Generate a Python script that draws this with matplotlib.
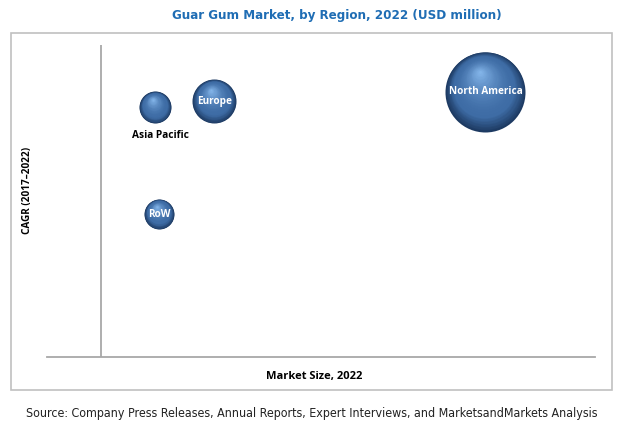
import numpy as np
import matplotlib
matplotlib.use("Agg")
import matplotlib.pyplot as plt
from matplotlib.patches import Rectangle
from matplotlib.transforms import ScaledTranslation
from matplotlib.colors import to_rgb

# Data (arbitrary units, no axis ticks in the original)
regions = ["Asia Pacific", "Europe", "North America", "RoW"]
market_size = [109, 229, 778, 117]
cagr = [8.0, 8.2, 8.5, 4.58]
bubble_size = [16, 22, 40, 15]   # bubble radius, px
label_inside = [False, True, True, True]

TITLE = "Guar Gum Market, by Region, 2022 (USD million)"
SOURCE = "Source: Company Press Releases, Annual Reports, Expert Interviews, and MarketsandMarkets Analysis"

W, H = 625, 429
fig = plt.figure(figsize=(W / 100, H / 100), dpi=100)

# outer frame
fig.patches.append(Rectangle((11 / W, 1 - 390 / H), (612 - 11) / W, (390 - 33) / H,
                             transform=fig.transFigure, fill=False,
                             edgecolor="#c0c0c0", linewidth=1.2))

ax = fig.add_axes([47 / W, 1 - 357 / H, (595 - 47) / W, (357 - 45) / H])
ax.set_xlim(-110, 1000)
ax.set_ylim(0, 10)
for s in ["top", "right", "left"]:
    ax.spines[s].set_visible(False)
ax.spines["bottom"].set_color("#a8a8a8")
ax.spines["bottom"].set_linewidth(1.3)
ax.axvline(0, color="#a8a8a8", linewidth=1.3)
ax.set_xticks([])
ax.set_yticks([])

dark = np.array(to_rgb("#1d3a62"))
mid = np.array(to_rgb("#3e6ca5"))
light = np.array(to_rgb("#86b8ec"))

n_layers = 40
for x, y, r in zip(market_size, cagr, bubble_size):
    for k in range(n_layers):
        f = k / n_layers
        rad = r * (1 - f) ** 0.9
        # colour goes dark edge -> mid body -> light highlight
        if f < 0.25:
            c = dark + (mid - dark) * (f / 0.25)
        else:
            c = mid + (light - mid) * ((f - 0.25) / 0.75) ** 1.8
        dx = -0.15 * r * f * 0.72
        dy = 0.5 * r * f * 0.72
        tr = ax.transData + ScaledTranslation(dx / 72, dy / 72, fig.dpi_scale_trans)
        ax.scatter([x], [y], s=(2 * rad * 0.72) ** 2, color=c, linewidths=0,
                   transform=tr, zorder=3 + k * 0.01)

for name, x, y, r, inside in zip(regions, market_size, cagr, bubble_size, label_inside):
    if inside:
        ax.text(x, y, name, ha="center", va="center", color="white",
                fontsize=7.2, fontweight="bold", family="Open Sans", zorder=10)
    else:
        ax.annotate(name, (x, y), xytext=(4, -(r + 12) * 0.72), textcoords="offset points",
                    ha="center", va="center", color="black", fontsize=7.3,
                    fontweight="bold", family="Open Sans", zorder=10)

title = fig.text(337 / W, 1 - 16 / H, TITLE, ha="center", va="center",
                 color="#1f6db4", fontsize=10.5, fontweight="bold",
                 family="DejaVu Sans", fontstretch="condensed")
fig.text(314 / W, 1 - 377 / H, "Market Size, 2022", ha="center", va="center",
         fontsize=8, fontweight="bold", family="Open Sans")
fig.text(28 / W, 1 - 190 / H, "CAGR (2017\u20132022)", ha="center", va="center",
         rotation=90, fontsize=7.2, fontweight="bold", family="Open Sans")
source = fig.text(312 / W, 1 - 413 / H, SOURCE, ha="center", va="center",
                  fontsize=9.5, color="#222222",
                  family="DejaVu Sans", fontstretch="condensed")

# fit the narrow-font texts to the width they take in the original
renderer = fig.canvas.get_renderer()
for t, target in [(title, 332), (source, 576)]:
    w = t.get_window_extent(renderer).width
    t.set_fontsize(t.get_fontsize() * target / w)

fig.savefig("out.png", dpi=100)
